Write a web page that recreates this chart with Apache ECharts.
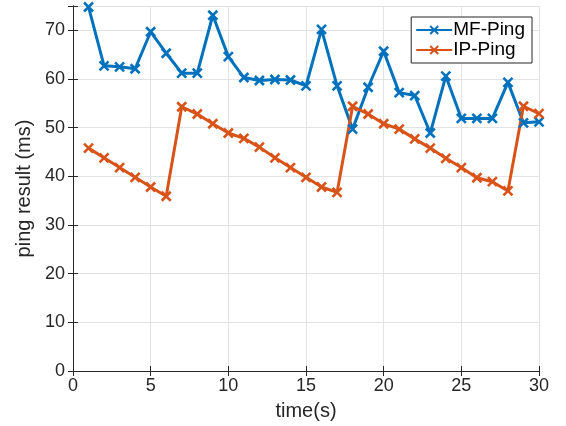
<!DOCTYPE html>
<html>
<head>
<meta charset="utf-8">
<script src="https://cdn.jsdelivr.net/npm/echarts@6/dist/echarts.min.js"></script>
<style>
  html, body { margin: 0; padding: 0; background: #fff; }
  #chart { width: 566px; height: 426px; }
</style>
</head>
<body>
<div id="chart"></div>
<script>
var timeSec = [1,2,3,4,5,6,7,8,9,10,11,12,13,14,15,16,17,18,19,20,21,22,23,24,25,26,27,28,29,30];
var mfPing = [74.8,62.7,62.5,62.1,69.7,65.3,61.2,61.2,73.1,64.6,60.3,59.7,59.9,59.8,58.6,
              70.2,58.6,49.7,58.3,65.7,57.2,56.6,48.9,60.6,51.9,51.9,51.9,59.3,51.0,51.2];
var ipPing = [45.8,43.8,41.8,39.8,37.8,35.9,54.3,52.8,50.8,48.9,47.8,46.0,43.8,41.8,39.8,
              37.8,36.7,54.4,52.8,50.8,49.7,47.7,45.8,43.7,41.8,39.7,38.9,37.0,54.4,52.9];

var crossPath = 'path://M0,0L10,10M10,0L0,10';
var axisColor = '#262626';
var font = 'Liberation Sans, Arial, Helvetica, sans-serif';

function pairs(ys){
	var out = [];
	for(var i = 0; i < timeSec.length; i++){
		out.push([timeSec[i], ys[i]]);
	}
	return out;
}

function makeSeries(name, color, ys){
	return {
		name: name,
		type: 'line',
		data: pairs(ys),
		symbol: crossPath,
		symbolSize: 9,
		showAllSymbol: true,
		lineStyle: { color: color, width: 3 },
		itemStyle: { color: color, borderColor: color, borderWidth: 2.6 },
		emphasis: { disabled: true },
		animation: false
	};
}

var myChart = echarts.init(document.getElementById('chart'));
var option = {
	backgroundColor: '#fff',
	animation: false,
	grid: { left: 73, right: 27, top: 6, bottom: 54 },
	legend: {
		right: 34,
		top: 17,
		orient: 'vertical',
		backgroundColor: '#fff',
		borderColor: axisColor,
		borderWidth: 1,
		padding: [3, 7, 3, 4],
		itemGap: 0,
		itemWidth: 36,
		itemHeight: 10,
		textStyle: { fontFamily: font, fontSize: 19, lineHeight: 20, color: '#000', padding: [0, 0, 0, -4] },
		data: ['MF-Ping', 'IP-Ping']
	},
	xAxis: [{
		type: 'value',
		min: 0, max: 30, interval: 5,
		name: 'time(s)',
		nameLocation: 'middle',
		nameGap: 30,
		nameTextStyle: { fontFamily: font, fontSize: 20, color: '#262626' },
		axisLine: { show: true, lineStyle: { color: axisColor, width: 1 } },
		axisTick: { show: true, inside: true, length: 5, lineStyle: { color: axisColor } },
		axisLabel: { fontFamily: font, fontSize: 18, color: '#262626', margin: 6 },
		splitLine: { show: true, lineStyle: { color: '#e3e3e3', width: 1 } }
	}, {
		type: 'value',
		position: 'top',
		min: 0, max: 30, interval: 5,
		axisLine: { show: true, lineStyle: { color: axisColor, width: 1 } },
		axisTick: { show: true, inside: true, length: 5, lineStyle: { color: axisColor } },
		axisLabel: { show: false },
		splitLine: { show: false }
	}],
	yAxis: [{
		type: 'value',
		min: 0, max: 75, interval: 10,
		name: 'ping result (ms)',
		nameLocation: 'middle',
		nameGap: 38,
		nameTextStyle: { fontFamily: font, fontSize: 20, color: '#262626' },
		axisLine: { show: true, lineStyle: { color: axisColor, width: 1 } },
		axisTick: { show: true, inside: true, length: 5, lineStyle: { color: axisColor } },
		axisLabel: { fontFamily: font, fontSize: 18, color: '#262626', margin: 8,
			formatter: function(v){ return v % 10 === 0 ? v : ''; } },
		splitLine: { show: true, lineStyle: { color: '#e3e3e3', width: 1 } }
	}, {
		type: 'value',
		position: 'right',
		min: 0, max: 75, interval: 10,
		axisLine: { show: true, lineStyle: { color: axisColor, width: 1 } },
		axisTick: { show: true, inside: true, length: 5, lineStyle: { color: axisColor } },
		axisLabel: { show: false },
		splitLine: { show: false }
	}],
	series: [
		makeSeries('MF-Ping', '#0072BD', mfPing),
		makeSeries('IP-Ping', '#D95319', ipPing)
	]
};
myChart.setOption(option);
</script>
</body>
</html>
